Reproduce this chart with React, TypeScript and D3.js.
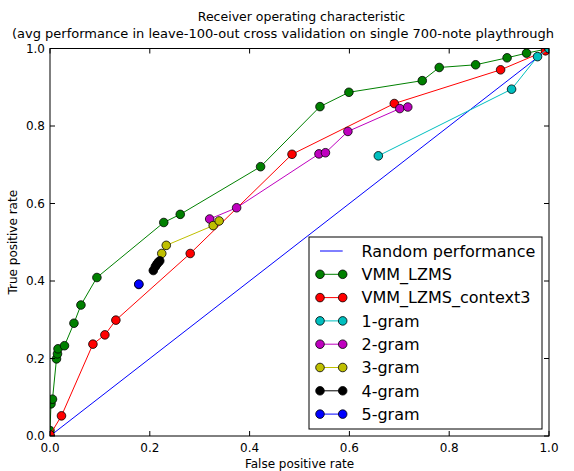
import React from 'react';
import * as d3 from 'd3';

const W = 574;
const H = 471;

// [false positive rate, true positive rate]
const randomPerf: [number, number][] = [[0, 0], [1, 1]];
const vmmLzms: [number, number][] = [
  [0, 0], [0, 0.014], [0.002, 0.083], [0.005, 0.095], [0.013, 0.199], [0.015, 0.212],
  [0.016, 0.225], [0.029, 0.233], [0.048, 0.291], [0.062, 0.338], [0.094, 0.409],
  [0.228, 0.551], [0.261, 0.572], [0.422, 0.695], [0.541, 0.850], [0.599, 0.887],
  [0.746, 0.917], [0.780, 0.951], [0.853, 0.958], [0.916, 0.976], [0.955, 0.988], [1, 1],
];
const vmmLzmsContext3: [number, number][] = [
  [0, 0.003], [0.023, 0.052], [0.086, 0.237], [0.110, 0.261], [0.132, 0.299],
  [0.281, 0.471], [0.485, 0.727], [0.690, 0.858], [0.903, 0.945], [0.993, 0.994], [1, 1],
];
const oneGram: [number, number][] = [[0.658, 0.723], [0.925, 0.895], [0.977, 0.979], [1, 1]];
const twoGram: [number, number][] = [
  [0.320, 0.560], [0.374, 0.589], [0.539, 0.728], [0.552, 0.731], [0.597, 0.786],
  [0.701, 0.845], [0.717, 0.849],
];
const threeGram: [number, number][] = [[0.224, 0.471], [0.233, 0.492], [0.327, 0.543], [0.339, 0.555]];
const fourGram: [number, number][] = [[0.207, 0.427], [0.211, 0.437], [0.214, 0.443], [0.217, 0.448], [0.220, 0.452]];
const fiveGram: [number, number][] = [[0.178, 0.391], [0.178, 0.392]];

const seriesNames = ['VMM_LZMS', 'VMM_LZMS_context3', '1-gram', '2-gram', '3-gram', '4-gram', '5-gram'];
const seriesData = [vmmLzms, vmmLzmsContext3, oneGram, twoGram, threeGram, fourGram, fiveGram];
const seriesColors = ['#008000', '#ff0000', '#00bfbf', '#bf00bf', '#bfbf00', '#000000', '#0000ff'];

const ticks = [0, 0.2, 0.4, 0.6, 0.8, 1.0];

const left = 50, right = 549, top = 48.5, bottom = 436;
const font = 'DejaVu Sans, sans-serif';

export default function App() {
  const x = d3.scaleLinear().domain([0, 1]).range([left, right]);
  const y = d3.scaleLinear().domain([0, 1]).range([bottom, top]);
  const line = d3.line<[number, number]>().x(d => x(d[0])).y(d => y(d[1]));
  const tickLen = 5;
  const legX = 309, legY = 237, legW = 233, legH = 192, rowH = 23.3;
  const rows = ['Random performance', ...seriesNames];
  const rowColors = ['#0000ff', ...seriesColors];

  return (
    <svg width={W} height={H} style={{ position: 'absolute', left: 0, top: 0, background: '#fff' }} fontFamily={font}>
      <defs>
        <clipPath id="plot">
          <rect x={left} y={top} width={right - left} height={bottom - top} />
        </clipPath>
      </defs>
      <rect x={0} y={0} width={W} height={H} fill="#fff" />
      <text x={(left + right) / 2 + 2} y={21} fontSize={12.5} textAnchor="middle">Receiver operating characteristic</text>
      <text x={12} y={38} fontSize={13} textAnchor="start">(avg performance in leave-100-out cross validation on single 700-note playthrough</text>

      <g clipPath="url(#plot)">
        <path d={line(randomPerf) || ''} fill="none" stroke="#0000ff" strokeWidth={1} />
        {seriesData.map((s, i) => (
          <g key={seriesNames[i]}>
            <path d={line(s) || ''} fill="none" stroke={seriesColors[i]} strokeWidth={1} />
            {s.map((d, j) => (
              <circle key={j} cx={x(d[0])} cy={y(d[1])} r={4.3} fill={seriesColors[i]} stroke="#000" strokeWidth={0.8} />
            ))}
          </g>
        ))}
      </g>

      <rect x={left} y={top} width={right - left} height={bottom - top} fill="none" stroke="#000" strokeWidth={1} />
      {ticks.map(t => (
        <g key={'x' + t}>
          <line x1={x(t)} x2={x(t)} y1={bottom} y2={bottom - tickLen} stroke="#000" />
          <line x1={x(t)} x2={x(t)} y1={top} y2={top + tickLen} stroke="#000" />
          <text x={x(t)} y={452} fontSize={12} textAnchor="middle">{t.toFixed(1)}</text>
        </g>
      ))}
      {ticks.map(t => (
        <g key={'y' + t}>
          <line x1={left} x2={left + tickLen} y1={y(t)} y2={y(t)} stroke="#000" />
          <line x1={right} x2={right - tickLen} y1={y(t)} y2={y(t)} stroke="#000" />
          <text x={45} y={y(t)} dy="0.35em" fontSize={12} textAnchor="end">{t.toFixed(1)}</text>
        </g>
      ))}
      <text x={(left + right) / 2} y={468} fontSize={12} textAnchor="middle">False positive rate</text>
      <text transform={`translate(17,${(top + bottom) / 2}) rotate(-90)`} fontSize={12} textAnchor="middle">True positive rate</text>

      <g>
        <rect x={legX} y={legY} width={legW} height={legH} fill="#fff" stroke="#000" strokeWidth={1} />
        {rows.map((name, i) => {
          const ry = legY + 14 + i * rowH;
          return (
            <g key={name}>
              <line x1={320} x2={342.7} y1={ry} y2={ry} stroke={rowColors[i]} strokeWidth={1} />
              {i > 0 && (
                <>
                  <circle cx={320} cy={ry} r={4.3} fill={rowColors[i]} stroke="#000" strokeWidth={0.8} />
                  <circle cx={342.7} cy={ry} r={4.3} fill={rowColors[i]} stroke="#000" strokeWidth={0.8} />
                </>
              )}
              <text x={361.5} y={ry} dy="0.36em" fontSize={16}>{name}</text>
            </g>
          );
        })}
      </g>
    </svg>
  );
}
